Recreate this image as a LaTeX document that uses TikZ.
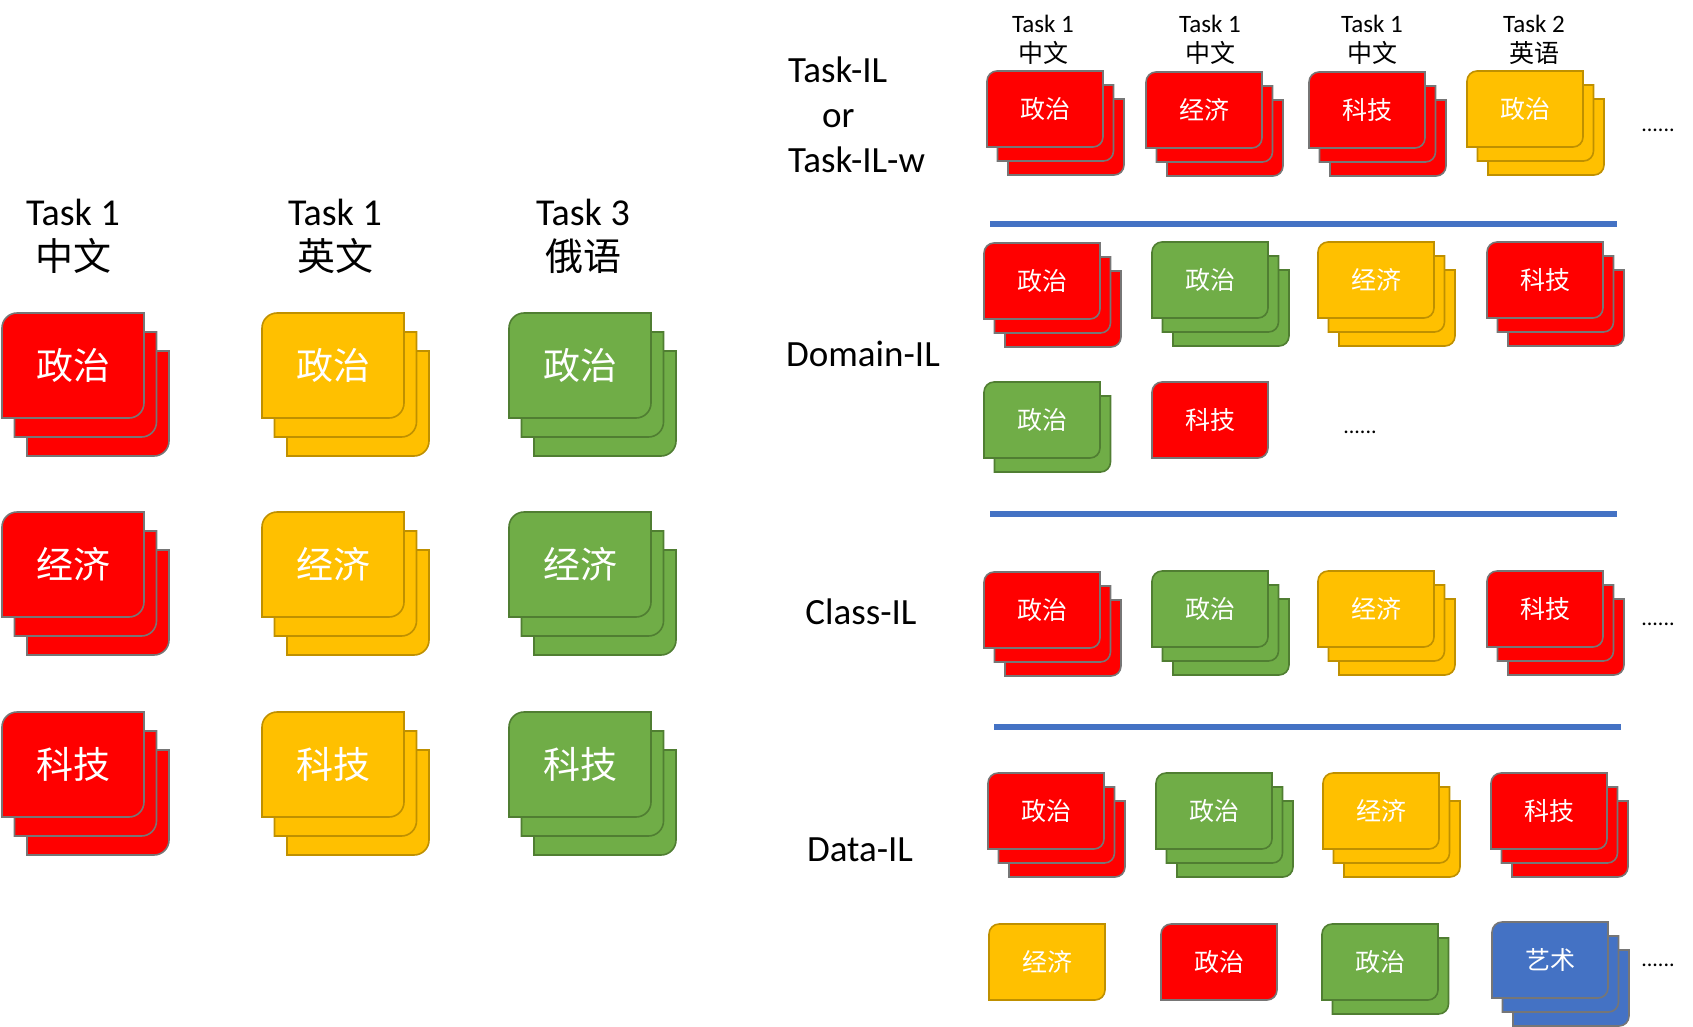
\documentclass[tikz,border=0pt]{standalone}
\usepackage{fontspec}
\setmainfont{Carlito}
\newfontfamily\cjk{Noto Sans CJK SC}
\usepackage{xcolor}
\usepackage{tikz}
\definecolor{redFill}{RGB}{255,0,0}
\definecolor{yellowFill}{RGB}{255,192,0}
\definecolor{greenFill}{RGB}{112,173,71}
\definecolor{blueFill}{RGB}{68,114,196}
\definecolor{grayEdge}{RGB}{118,118,118}
\definecolor{goldEdge}{RGB}{191,144,0}
\definecolor{greenEdge}{RGB}{80,126,50}
\definecolor{sepBlue}{RGB}{68,114,196}
\tikzset{
  cardRed/.style={fill=redFill, draw=grayEdge, line width=1.6pt},
  cardYellow/.style={fill=yellowFill, draw=goldEdge, line width=1.6pt},
  cardGreen/.style={fill=greenFill, draw=greenEdge, line width=1.6pt},
  cardBlue/.style={fill=blueFill, draw=grayEdge, line width=1.6pt},
  wordBig/.style={text=white, inner sep=0pt, font=\cjk\fontsize{37}{40}\selectfont},
  wordSmall/.style={text=white, inner sep=0pt, font=\cjk\fontsize{25}{28}\selectfont},
  headBig/.style={align=center, inner sep=0pt, font=\fontsize{38}{45}\selectfont},
  headSmall/.style={align=center, inner sep=0pt, font=\fontsize{25}{30}\selectfont},
  rowLabel/.style={inner sep=0pt, font=\fontsize{37}{45}\selectfont},
  sepLine/.style={draw=sepBlue, line width=5.5pt},
  moreDots/.style={inner sep=0pt, font=\fontsize{22}{24}\selectfont}
}
% size of one card: width, height, shift per card, corner radius
\newcommand{\CardSize}[5]{\def\cardw{#1}\def\cardh{#2}\def\carddx{#3}\def\carddy{#4}\def\cardr{#5}}
% #1,#2 top left of front card, #3 cards, #4 card style, #5 word style, #6 word, #7 name
\newcommand{\CardStack}[7]{%
  \foreach \k in {#3,...,1}{%
    \pgfmathsetmacro{\px}{#1+(\k-1)*\carddx}%
    \pgfmathsetmacro{\py}{#2+(\k-1)*\carddy}%
    \draw[#4] (\px,{\py+\cardr})
      .. controls (\px,{\py+0.45*\cardr}) and ({\px+0.45*\cardr},\py) .. ({\px+\cardr},\py)
      -- ({\px+\cardw},\py) -- ({\px+\cardw},{\py+\cardh-\cardr})
      .. controls ({\px+\cardw},{\py+\cardh-0.45*\cardr}) and ({\px+\cardw-0.45*\cardr},{\py+\cardh}) .. ({\px+\cardw-\cardr},{\py+\cardh})
      -- (\px,{\py+\cardh}) -- cycle;
  }%
  \node[#5] (#7) at ({#1+\cardw/2},{#2+\cardh/2}) {#6};
}

\begin{document}
\begin{tikzpicture}[x=1pt, y=-1pt]
  \useasboundingbox (0,0) rectangle (1693,1026);
  % left: three tasks, three topics each
  \begin{scope}
    \CardSize{142}{105}{12.5}{19}{15}
    \node[headBig] (hL1) at (73,236) {Task 1\\{\cjk 中文}};
    \node[headBig] (hL2) at (335,236) {Task 1\\{\cjk 英文}};
    \node[headBig] (hL3) at (583,236) {Task 3\\{\cjk 俄语}};
    \foreach \col/\cx/\sty in {1/2/cardRed, 2/262/cardYellow, 3/509/cardGreen}{
      \foreach \row/\cy/\word in {1/313/政治, 2/512/经济, 3/712/科技}{
        \CardStack{\cx}{\cy}{3}{\sty}{wordBig}{\word}{L\row\col}
      }
    }
  \end{scope}
  % right: the four settings
  \CardSize{116}{76}{10.5}{14}{10}
  % Task-IL
  \node[rowLabel, align=left, anchor=west] (lTask) at (788,114.5) {Task-IL\\\hspace*{34pt}or\\Task-IL-w};
  \node[headSmall] (hT1) at (1043,40) {Task 1\\{\cjk 中文}};
  \node[headSmall] (hT2) at (1210,40) {Task 1\\{\cjk 中文}};
  \node[headSmall] (hT3) at (1372,40) {Task 1\\{\cjk 中文}};
  \node[headSmall] (hT4) at (1534,40) {Task 2\\{\cjk 英语}};
  \CardStack{987}{71}{3}{cardRed}{wordSmall}{政治}{T1}
  \CardStack{1146}{72}{3}{cardRed}{wordSmall}{经济}{T2}
  \CardStack{1309}{72}{3}{cardRed}{wordSmall}{科技}{T3}
  \CardStack{1467}{71}{3}{cardYellow}{wordSmall}{政治}{T4}
  \node[moreDots, anchor=base] (dT) at (1658,131) {......};
  \coordinate (s1a) at (990,224); \coordinate (s1b) at (1617,224);
  \draw[sepLine] (s1a) -- (s1b);
  % Domain-IL
  \node[rowLabel, anchor=base] (lDomain) at (863,366) {Domain-IL};
  \CardStack{984}{243}{3}{cardRed}{wordSmall}{政治}{D1}
  \CardStack{1152}{242}{3}{cardGreen}{wordSmall}{政治}{D2}
  \CardStack{1318}{242}{3}{cardYellow}{wordSmall}{经济}{D3}
  \CardStack{1487}{242}{3}{cardRed}{wordSmall}{科技}{D4}
  \CardStack{984}{382}{2}{cardGreen}{wordSmall}{政治}{D5}
  \CardStack{1152}{382}{1}{cardRed}{wordSmall}{科技}{D6}
  \node[moreDots, anchor=base] (dD) at (1360,433) {......};
  \coordinate (s2a) at (990,514); \coordinate (s2b) at (1617,514);
  \draw[sepLine] (s2a) -- (s2b);
  % Class-IL
  \node[rowLabel, anchor=base] (lClass) at (861,624) {Class-IL};
  \CardStack{984}{572}{3}{cardRed}{wordSmall}{政治}{C1}
  \CardStack{1152}{571}{3}{cardGreen}{wordSmall}{政治}{C2}
  \CardStack{1318}{571}{3}{cardYellow}{wordSmall}{经济}{C3}
  \CardStack{1487}{571}{3}{cardRed}{wordSmall}{科技}{C4}
  \node[moreDots, anchor=base] (dC) at (1658,625) {......};
  \coordinate (s3a) at (994,727); \coordinate (s3b) at (1621,727);
  \draw[sepLine] (s3a) -- (s3b);
  % Data-IL
  \node[rowLabel, anchor=base] (lData) at (860,861) {Data-IL};
  \CardStack{988}{773}{3}{cardRed}{wordSmall}{政治}{A1}
  \CardStack{1156}{773}{3}{cardGreen}{wordSmall}{政治}{A2}
  \CardStack{1323}{773}{3}{cardYellow}{wordSmall}{经济}{A3}
  \CardStack{1491}{773}{3}{cardRed}{wordSmall}{科技}{A4}
  \CardStack{989}{924}{1}{cardYellow}{wordSmall}{经济}{A5}
  \CardStack{1161}{924}{1}{cardRed}{wordSmall}{政治}{A6}
  \CardStack{1322}{924}{2}{cardGreen}{wordSmall}{政治}{A7}
  \CardStack{1492}{922}{3}{cardBlue}{wordSmall}{艺术}{A8}
  \node[moreDots, anchor=base] (dA) at (1658,966) {......};
\end{tikzpicture}
\end{document}
